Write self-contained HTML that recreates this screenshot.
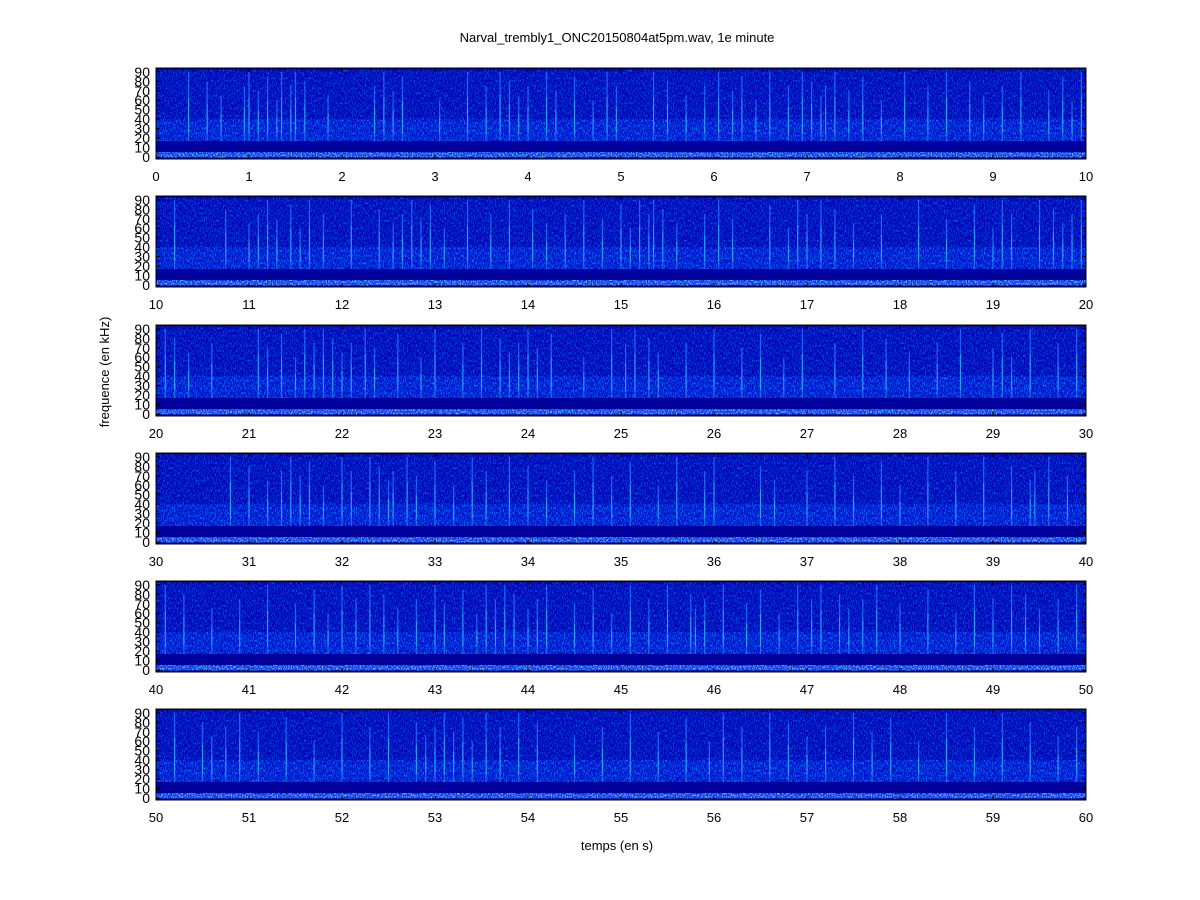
<!DOCTYPE html>
<html><head><meta charset="utf-8"><style>
body{margin:0;background:#fff;width:1200px;height:900px;overflow:hidden}
svg{display:block}
text{font-family:"Liberation Sans",sans-serif;fill:#000}
</style></head><body>
<svg id="chart" width="1200" height="900" xmlns="http://www.w3.org/2000/svg">
<defs>
<filter id="speck" x="0" y="0" width="100%" height="100%">
<feTurbulence type="fractalNoise" baseFrequency="0.9 0.4" numOctaves="2" seed="3"/>
<feColorMatrix type="matrix" values="0 0 0 0 0  0 0 0 0 0.25  0 0 0 0 1  0 0 0 3 -1.4"/>
</filter>
<filter id="speck2" x="0" y="0" width="100%" height="100%">
<feTurbulence type="fractalNoise" baseFrequency="0.8 0.6" numOctaves="2" seed="7"/>
<feColorMatrix type="matrix" values="0 0 0 0 0.2  0 0 0 0 0.85  0 0 0 0 1  0 0 0 3 -1.3"/>
</filter>
</defs>
<text x="617" y="42" font-size="13" text-anchor="middle">Narval_trembly1_ONC20150804at5pm.wav, 1e minute</text>
<text x="617" y="850" font-size="13" text-anchor="middle">temps (en s)</text>
<text x="109" y="372" font-size="13" text-anchor="middle" transform="rotate(-90 109 372)">frequence (en kHz)</text>
<g id="panels"></g>
</svg>
<script>
const panelStarts = [0, 10, 20, 30, 40, 50];
const yTicks = [0, 10, 20, 30, 40, 50, 60, 70, 80, 90];
const clicks0 = [0.35,0.55,0.7,0.95,1.0,1.1,1.2,1.3,1.35,1.45,1.5,1.6,1.85,2.35,2.45,2.55,2.65,3.05,3.35,3.55,3.7,3.8,3.9,4.0,4.2,4.3,4.5,4.7,4.85,4.95,5.35,5.5,5.7,5.9,6.05,6.2,6.3,6.45,6.6,6.8,6.95,7.05,7.15,7.2,7.3,7.45,7.6,7.8,8.05,8.3,8.5,8.75,8.9,9.1,9.3,9.6,9.75,9.85,9.95];
const clicks1 = [10.2,10.75,11.0,11.1,11.2,11.3,11.45,11.55,11.65,11.8,12.1,12.4,12.55,12.65,12.75,12.85,12.95,13.1,13.35,13.6,13.8,14.05,14.2,14.4,14.6,14.8,15.0,15.1,15.2,15.3,15.35,15.45,15.6,15.9,16.05,16.2,16.6,16.8,16.9,17.0,17.15,17.3,17.5,17.8,18.2,18.5,18.8,19.0,19.1,19.2,19.5,19.65,19.75,19.85,19.95];
const clicks2 = [20.1,20.2,20.35,20.6,21.1,21.2,21.35,21.5,21.6,21.7,21.8,21.9,22.0,22.1,22.25,22.35,22.6,22.85,23.0,23.3,23.5,23.7,23.8,23.9,24.0,24.1,24.25,24.6,24.9,25.05,25.15,25.3,25.4,25.7,26.0,26.3,26.5,26.75,26.95,27.3,27.6,27.85,28.1,28.4,28.65,29.0,29.1,29.2,29.4,29.7,29.9];
const clicks3 = [30.8,31.0,31.2,31.35,31.45,31.55,31.65,31.8,32.0,32.1,32.3,32.4,32.5,32.55,32.7,32.8,33.0,33.2,33.4,33.55,33.8,34.0,34.2,34.5,34.7,34.9,35.1,35.4,35.6,35.9,36.0,36.5,36.65,37.0,37.3,37.5,37.8,38.0,38.3,38.6,38.9,39.2,39.4,39.45,39.6,39.8];
const clicks4 = [40.1,40.3,40.6,40.9,41.2,41.5,41.7,41.85,42.0,42.15,42.3,42.45,42.6,42.8,43.0,43.1,43.3,43.45,43.55,43.65,43.75,43.85,44.0,44.1,44.2,44.5,44.7,44.9,45.1,45.3,45.5,45.75,45.8,45.9,46.1,46.35,46.5,46.7,46.9,47.05,47.15,47.35,47.45,47.6,47.75,48.0,48.3,48.6,48.8,49.0,49.2,49.35,49.5,49.7,49.9];
const clicks5 = [50.2,50.5,50.6,50.75,50.9,51.1,51.4,51.7,52.0,52.3,52.5,52.8,52.9,53.0,53.1,53.2,53.3,53.4,53.55,53.7,53.9,54.1,54.5,54.8,55.1,55.4,55.7,55.95,56.1,56.3,56.6,56.8,57.0,57.2,57.5,57.7,57.9,58.2,58.5,58.8,59.1,59.4,59.7,59.9];
const clickTops = [90, 80, 65, 75, 90, 70, 85, 60, 90, 75];
const allClicks = [clicks0, clicks1, clicks2, clicks3, clicks4, clicks5];

const NS = "http://www.w3.org/2000/svg";
const X0 = 156, X1 = 1086, PH = 91;
const panelTops = [68, 196, 325, 453, 581, 709];
const fMin = -2, fMax = 94;
function mk(tag, attrs, parent){const e=document.createElementNS(NS,tag);for(const k in attrs)e.setAttribute(k,attrs[k]);parent.appendChild(e);return e;}
const root = document.getElementById('panels');
panelStarts.forEach((t0, p) => {
  const top = panelTops[p];
  const xs = t => X0 + (t - t0) / 10 * (X1 - X0);
  const ys = f => top + PH - (f - fMin) / (fMax - fMin) * PH;
  const g = mk('g', {}, root);
  
  
  const bg = mk('rect', {x:X0, y:top, width:X1-X0, height:PH, fill:'#00009a'}, g);
  
  
  mk('rect', {x:X0, y:ys(92), width:X1-X0, height:ys(17)-ys(92), fill:'#0006b8'}, g);
  mk('rect', {x:X0, y:ys(40), width:X1-X0, height:ys(17)-ys(40), fill:'#0014d0', opacity:0.8}, g);
  mk('rect', {x:X0, y:ys(92), width:X1-X0, height:ys(17)-ys(92), fill:'#fff', filter:'url(#speck)', opacity:0.7}, g);
  mk('rect', {x:X0, y:ys(40), width:X1-X0, height:ys(17)-ys(40), fill:'#fff', filter:'url(#speck)', opacity:0.6}, g);
  const band = mk('rect', {x:X0, y:ys(5), width:X1-X0, height:ys(0)-ys(5), fill:'#0838e8'}, g);
  
  
  mk('rect', {x:X0, y:ys(5), width:X1-X0, height:ys(0)-ys(5), fill:'#fff', filter:'url(#speck2)', opacity:0.9}, g);
  allClicks[p].forEach((t, i) => {
    const ft = clickTops[i % clickTops.length];
    const l = mk('line', {x1:xs(t), x2:xs(t), y1:ys(17), y2:ys(ft), stroke:'#2878ff', 'stroke-width':1.3, opacity:0.75}, g);
    
    
    mk('line', {x1:xs(t), x2:xs(t), y1:ys(25), y2:ys(ft*0.7), stroke:'#40d8ff', 'stroke-width':1, opacity:0.5}, g);
  });
  for (let s = 0; s <= 10; s++) {
    const x = xs(t0 + s);
    mk('line', {x1:x, x2:x, y1:top, y2:top+4, stroke:'#000'}, g);
    mk('line', {x1:x, x2:x, y1:top+PH, y2:top+PH-4, stroke:'#000'}, g);
    const tl = mk('text', {x:x, y:top+PH+22, 'font-size':13, 'text-anchor':'middle'}, g);
    tl.textContent = t0 + s;
    
    
  }
  yTicks.forEach(f => {
    mk('line', {x1:X0, x2:X0+4, y1:ys(f), y2:ys(f), stroke:'#000'}, g);
    mk('line', {x1:X1, x2:X1-4, y1:ys(f), y2:ys(f), stroke:'#000'}, g);
    const yl = mk('text', {x:X0-6, y:ys(f)+5, 'font-size':14, 'text-anchor':'end'}, g);
    yl.textContent = f;
    
    
  });
  mk('rect', {x:X0, y:top, width:X1-X0, height:PH, fill:'none', stroke:'#000', 'stroke-width':1}, g);
});
</script>
</body></html>
